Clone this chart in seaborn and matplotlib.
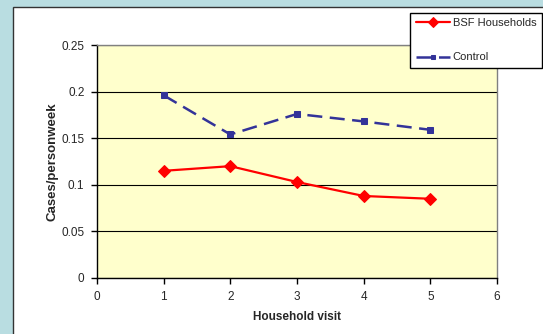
import matplotlib.pyplot as plt
import matplotlib.patches as mpatches
import pandas as pd
import seaborn as sns

# values
visits = [1, 2, 3, 4, 5]
bsf_households = [0.115, 0.120, 0.103, 0.088, 0.085]
control = [0.196, 0.154, 0.176, 0.168, 0.159]

x_ticks = [0, 1, 2, 3, 4, 5, 6]
y_ticks = [0, 0.05, 0.1, 0.15, 0.2, 0.25]
y_tick_labels = ["0", "0.05", "0.1", "0.15", "0.2", "0.25"]

sns.set_style("white")
plt.rcParams["font.family"] = ["Liberation Sans Narrow", "Liberation Sans", "DejaVu Sans"]

df = pd.DataFrame({"visit": visits, "BSF Households": bsf_households, "Control": control})

fig = plt.figure(figsize=(5.43, 3.34), dpi=100)
fig.patch.set_facecolor("#b9dde1")
# white inner panel with a thin dark border
panel = mpatches.Rectangle((13 / 543, -0.01), 1.0, 1 - 7 / 334 + 0.01, transform=fig.transFigure,
                           facecolor="white", edgecolor="#333333", linewidth=1, zorder=-5)
fig.patches.append(panel)

ax = fig.add_axes([97 / 543, 1 - 278 / 334, 400 / 543, 233 / 334])
ax.set_facecolor("#ffffcc")

sns.lineplot(data=df, x="visit", y="BSF Households", ax=ax, color="#ff0000", linewidth=1.6,
             marker="D", markersize=6.5, markeredgecolor="#ff0000", label="BSF Households")
sns.lineplot(data=df, x="visit", y="Control", ax=ax, color="#333399", linewidth=1.8,
             linestyle=(0, (6, 3)), marker="s", markersize=4.5, markeredgecolor="#333399",
             label="Control")

ax.set_xlim(0, 6)
ax.set_ylim(0, 0.25)
ax.set_xticks(x_ticks)
ax.set_yticks(y_ticks)
ax.set_yticklabels(y_tick_labels)
ax.tick_params(axis="both", labelsize=8.5, length=4, width=1, color="black", direction="out",
               left=True, bottom=True, pad=5)
ax.yaxis.grid(True, color="black", linewidth=0.8)
ax.xaxis.grid(False)
ax.set_axisbelow(True)

for side in ["left", "bottom"]:
    ax.spines[side].set_color("black")
    ax.spines[side].set_linewidth(1)
for side in ["top", "right"]:
    ax.spines[side].set_color("#808080")
    ax.spines[side].set_linewidth(1)

ax.set_xlabel("Household visit", fontsize=8.5, fontweight="bold", labelpad=6)
ax.set_ylabel("Cases/personweek", fontsize=9.5, fontweight="bold", labelpad=2)

handles, labels = ax.get_legend_handles_labels()
ax.get_legend().remove()
leg = fig.legend(handles, labels, loc="upper left", bbox_to_anchor=(410 / 543, 1 - 12.5 / 334),
                 frameon=True, fancybox=False, fontsize=8, handlelength=3.1, markerscale=0.75,
                 labelspacing=2.2, borderpad=0.5, borderaxespad=0, handletextpad=0.25)
leg.get_frame().set_edgecolor("black")
leg.get_frame().set_linewidth(1)
leg.get_frame().set_facecolor("white")
leg.get_frame().set_alpha(1)

fig.savefig("out.png", dpi=100, facecolor=fig.get_facecolor())
